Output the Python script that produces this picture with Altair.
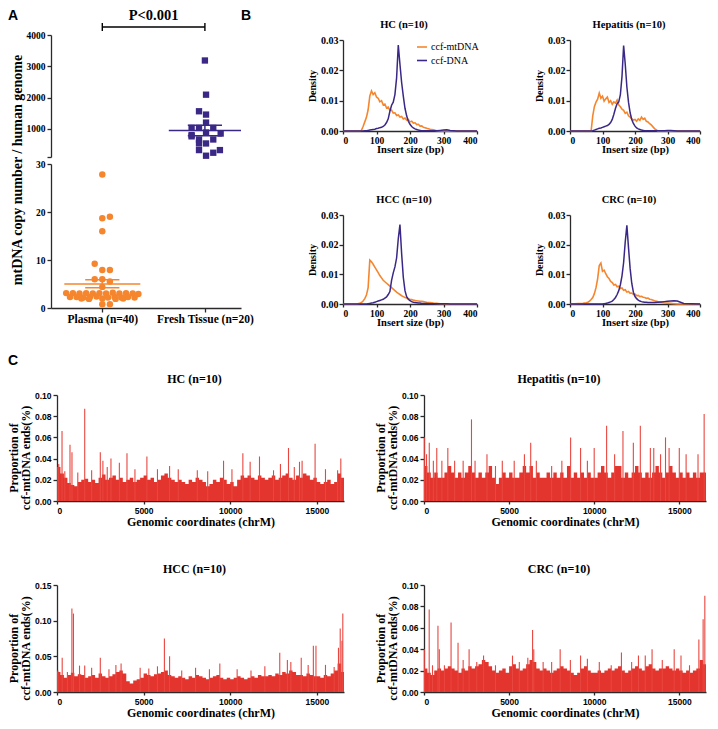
import altair as alt
import pandas as pd

W, H = 702, 713
SERIF = "Liberation Serif"
SANS = "Liberation Sans"
ORANGE = "#F5862E"
PURPLE = "#3B2886"
RED = "#E3342D"
SPIKE = "#E9463F"
INK = "#2a2a2a"

# ---------------- Panel A data ----------------
group_names = ["Plasma (n=40)", "Fresh Tissue (n=20)"]
plasma_vals = [27.8, 18.7, 19.0, 16.0, 9.2, 7.9, 7.9, 6.0, 6.0, 5.5, 4.4,
               3.1, 3.1, 3.0, 3.1, 3.0, 3.1, 3.0, 3.2, 3.0, 3.1, 3.0, 2.9,
               2.3, 2.3, 2.2, 2.3, 2.4, 2.2, 2.3, 2.2, 2.3, 2.2,
               2.0, 1.9, 2.0, 1.9, 2.0, 0.8, 0.8]
plasma_x = [27, 27, 31, 27, 23, 27, 31, 23, 27, 31, 27,
            8, 11.5, 15, 18.5, 22, 25.5, 29, 32.5, 36, 39.5, 43, 46,
            10, 13.5, 17, 20.5, 24, 30, 33.5, 37, 40.5, 44,
            16, 20, 27, 34, 38, 27, 31]
fresh_vals = [3185, 2092, 1562, 1456, 1200, 1030, 1030, 1030, 883, 850,
              800, 660, 660, 533, 533, 321, 321, 236, 141, 760]
fresh_x = [81, 81.6, 77.9, 81.6, 81.6, 74, 77.9, 85.4, 81.6, 89.3,
           74, 77.9, 85.4, 81.6, 77.9, 77.9, 88.9, 85.4, 81.6, 74]
group_mean = [5.0, 947]
group_sem_lo = [4.2, 777]
group_sem_hi = [5.9, 1117]
p_text = "P<0.001"

# ---------------- Panel B data (density x1e-3) ----------------
bx = [0, 40, 50, 55, 60, 65, 70, 75, 80, 85, 90, 95, 100, 105, 110, 115, 120, 125, 130, 135,
      140, 145, 150, 155, 160, 165, 170, 175, 180, 185, 190, 195, 200, 205, 210, 215, 220, 225,
      230, 235, 240, 245, 250, 260, 270, 280, 290, 300, 310, 320, 330, 340, 350, 400]
hc_o = [0, 0, 0, 0.2, 1.5, 3.0, 4.5, 7.0, 11.5, 13.2,
        12.0, 12.6, 11.2, 10.8, 9.6, 10.0, 8.6, 8.9, 7.6, 7.9,
        6.8, 6.9, 5.9, 6.0, 5.1, 5.3, 4.6, 4.8, 4.0, 4.3,
        3.6, 3.8, 3.0, 3.2, 2.6, 2.7, 2.1, 2.2, 1.6, 1.7,
        1.2, 1.1, 0.9, 0.6, 0.4, 0.1, 0, 0, 0, 0,
        0, 0, 0, 0]
hc_p = [0, 0, 0, 0, 0, 0.1, 0.1, 0.2, 0.3, 0.4,
        0.5, 0.6, 0.8, 0.9, 1.1, 1.2, 1.5, 2.0, 2.8, 4.0,
        6.5, 8.5, 9.5, 12.0, 17.5, 28.3, 22.0, 16.0, 11.5, 7.5,
        5.0, 3.2, 2.2, 1.5, 1.0, 0.7, 0.5, 0.3, 0.2, 0.1,
        0.1, 0.1, 0.1, 0.1, 0.1, 0.1, 0.2, 0.3, 0.4, 0.2,
        0.1, 0, 0, 0]
hep_o = [0, 0, 0, 0, 0, 0, 5.0, 8.0, 9.5, 10.5,
         12.5, 10.8, 11.5, 9.8, 10.6, 11.2, 9.4, 10.0, 8.8, 9.6,
         9.2, 10.2, 8.6, 8.0, 7.2, 6.8, 5.8, 6.2, 5.0, 4.6,
         4.0, 3.6, 3.8, 3.2, 4.0, 3.5, 4.6, 3.8, 4.2, 3.2,
         3.0, 2.4, 2.0, 0.8, 0, 0, 0, 0, 0, 0,
         0, 0, 0, 0]
hep_p = [0, 0, 0, 0, 0, 0, 0.1, 0.3, 0.5, 0.7,
         0.9, 1.0, 1.2, 1.4, 1.6, 1.8, 2.2, 2.8, 3.8, 5.5,
         7.5, 9.0, 9.6, 12.0, 18.0, 28.2, 22.0, 14.5, 9.5, 6.0,
         3.8, 2.5, 1.6, 1.0, 0.7, 0.5, 0.3, 0.2, 0.1, 0.1,
         0.1, 0.1, 0.1, 0.1, 0.1, 0.1, 0.1, 0.2, 0.2, 0.1,
         0, 0, 0, 0]
hcc_o = [0, 0, 0.2, 0.5, 1.0, 1.8, 3.0, 5.5, 14.8, 14.2,
         13.4, 12.4, 11.5, 10.6, 9.6, 8.8, 8.0, 7.5, 7.0, 6.5,
         6.0, 5.5, 5.0, 4.5, 4.0, 3.6, 3.2, 2.8, 2.5, 2.2,
         2.0, 1.8, 1.6, 1.5, 1.3, 1.2, 1.1, 1.0, 0.9, 0.9,
         0.8, 0.7, 0.6, 0.5, 0.3, 0.2, 0.1, 0.1, 0, 0,
         0, 0, 0, 0]
hcc_p = [0, 0, 0, 0, 0, 0, 0, 0.1, 0.2, 0.3,
         0.4, 0.6, 0.8, 1.0, 1.2, 1.4, 1.6, 2.0, 2.4, 3.2,
         4.2, 8.0, 10.5, 12.5, 15.5, 22.0, 26.8, 17.0, 9.0, 4.5,
         2.5, 1.6, 1.1, 0.8, 0.6, 0.5, 0.4, 0.3, 0.3, 0.2,
         0.2, 0.2, 0.2, 0.1, 0.1, 0.1, 0.1, 0.1, 0.1, 0,
         0, 0, 0, 0]
crc_o = [0, 0.2, 0.4, 0.6, 1.0, 1.5, 2.2, 3.5, 5.5, 8.5,
         13.0, 13.8, 11.0, 11.4, 10.2, 9.2, 8.6, 7.6, 7.2, 6.4,
         6.6, 5.8, 6.0, 5.2, 5.4, 4.6, 4.8, 4.0, 4.2, 3.6,
         3.7, 3.2, 3.3, 2.8, 2.9, 2.5, 2.6, 2.3, 2.2, 1.9,
         2.0, 1.6, 1.5, 1.1, 0.8, 0.6, 0.4, 0.3, 0.2, 0.1,
         0, 0, 0, 0]
crc_p = [0, 0, 0, 0, 0, 0, 0, 0, 0, 0,
         0, 0, 0, 0.1, 0.2, 0.3, 0.5, 0.7, 1.0, 1.5,
         2.2, 3.2, 4.5, 6.5, 9.5, 14.0, 21.0, 26.5, 19.0, 12.0,
         7.0, 4.0, 2.5, 1.8, 1.3, 1.0, 0.8, 0.7, 0.6, 0.6,
         0.5, 0.5, 0.5, 0.5, 0.6, 0.7, 0.8, 0.9, 1.0, 1.1,
         1.0, 0.6, 0.2, 0]
b_titles = ["HC (n=10)", "Hepatitis (n=10)", "HCC (n=10)", "CRC (n=10)"]
b_series = ["ccf-mtDNA", "ccf-DNA"]

# ---------------- Panel C data (proportion x1e-3, 200 bp bins) ----------------
chrM_len = 16569
c_bin_start = list(range(0, 16600, 200))
hc_base = [32, 26, 22, 17, 15, 14, 18, 20, 21, 18, 20, 17, 22, 25, 20, 22, 24, 20, 22, 18,
           20, 22, 18, 20, 22, 24, 20, 22, 18, 20, 24, 26, 22, 20, 18, 20, 18, 16, 20, 18,
           22, 20, 18, 14, 16, 20, 18, 22, 20, 16, 18, 14, 20, 24, 22, 24, 22, 20, 24, 22,
           20, 22, 24, 20, 22, 24, 26, 22, 20, 24, 22, 26, 24, 20, 22, 18, 16, 18, 20, 16,
           18, 26, 22]
hep_base = [33, 27, 22, 27, 22, 22, 27, 33, 27, 22, 27, 22, 27, 33, 27, 22, 27, 22, 27, 33,
            22, 16, 22, 27, 22, 27, 22, 22, 27, 33, 27, 33, 22, 27, 22, 22, 27, 22, 27, 22,
            27, 22, 33, 22, 27, 22, 27, 22, 27, 22, 22, 27, 33, 27, 22, 27, 33, 33, 22, 27,
            22, 27, 33, 27, 22, 27, 22, 27, 33, 27, 22, 27, 33, 27, 22, 27, 22, 27, 22, 27,
            22, 27, 27]
hcc_base = [28, 24, 20, 24, 27, 22, 25, 24, 20, 22, 24, 20, 26, 22, 20, 22, 25, 28, 30, 26,
            15, 12, 16, 18, 20, 26, 24, 22, 25, 26, 28, 30, 24, 22, 20, 22, 20, 18, 22, 20,
            24, 22, 20, 18, 20, 22, 24, 20, 18, 20, 18, 20, 22, 20, 18, 20, 22, 20, 24, 22,
            22, 24, 22, 26, 24, 28, 26, 30, 28, 24, 24, 22, 26, 24, 22, 22, 20, 24, 22, 26,
            30, 40, 28]
crc_base = [22, 18, 16, 20, 22, 20, 22, 24, 22, 20, 18, 22, 20, 24, 22, 24, 26, 30, 28, 24,
            20, 18, 20, 22, 18, 24, 26, 22, 20, 22, 26, 30, 28, 22, 20, 22, 20, 18, 20, 22,
            24, 22, 20, 18, 16, 18, 22, 24, 20, 18, 18, 20, 18, 20, 22, 20, 22, 24, 20, 18,
            20, 22, 24, 22, 20, 24, 26, 22, 20, 22, 22, 24, 22, 20, 22, 20, 18, 20, 18, 20,
            22, 30, 26]
hc_sp_pos = [100, 290, 450, 750, 865, 1200, 1600, 2000, 2500, 2650, 2900, 3115, 3600, 4040, 4500,
             5190, 5800, 6500, 7000, 8100, 8700, 9615, 10100, 10730, 11150, 11690, 12500, 12900,
             13365, 13700, 14000, 14150, 14900, 15500, 16200, 16385]
hc_sp_val = [35, 66, 28, 53, 46, 27, 87, 29, 46, 38, 32, 40, 36, 45, 30, 42, 30, 33, 30, 29,
             28, 38, 30, 45, 37, 42, 29, 35, 50, 32, 37, 38, 54, 30, 29, 40]
hep_sp_pos = [20, 150, 310, 550, 750, 1050, 1400, 1800, 2300, 2790, 3000, 3700, 4200, 4600, 5300,
              5900, 6270, 6600, 7500, 8100, 8615, 9200, 9600, 10000, 10730, 11200, 11690, 12300,
              12710, 13300, 13500, 13900, 14190, 14400, 15000, 15400, 16100, 16460]
hep_sp_val = [60, 44, 55, 38, 50, 38, 50, 38, 38, 77, 38, 44, 33, 38, 38, 44, 55, 38, 33, 38,
              60, 50, 38, 50, 71, 44, 66, 55, 71, 50, 50, 44, 60, 50, 50, 44, 44, 82]
hcc_sp_pos = [50, 300, 600, 860, 950, 1300, 1600, 2000, 2500, 3000, 3400, 3700, 4800, 5300, 5800,
              6200, 6500, 7200, 8000, 8800, 9400, 10400, 11200, 12000, 12860, 13300, 13500, 14100,
              14500, 14800, 14950, 15500, 16000, 16250, 16350, 16450, 16500]
hcc_sp_val = [30, 48, 28, 117, 110, 37, 37, 34, 48, 32, 38, 40, 34, 33, 36, 75, 50, 30, 34, 32,
              40, 32, 30, 36, 55, 45, 42, 48, 38, 65, 65, 38, 35, 62, 89, 72, 110]
crc_sp_pos = [20, 305, 500, 820, 900, 1200, 1590, 2000, 2300, 2650, 3100, 3500, 4200, 5200, 5600,
              6100, 6380, 6450, 7000, 7500, 8000, 8600, 9200, 9600, 10300, 11000, 11600, 12200,
              12600, 13000, 13400, 14000, 14700, 15100, 15600, 16150, 16400, 16500]
crc_sp_val = [40, 77, 25, 62, 40, 25, 65, 46, 30, 40, 28, 34, 25, 34, 28, 32, 58, 40, 28, 28,
              40, 30, 34, 31, 28, 25, 37, 28, 34, 34, 40, 30, 40, 34, 25, 49, 68, 90]
c_titles = ["HC (n=10)", "Hepatitis (n=10)", "HCC (n=10)", "CRC (n=10)"]
c_ytitle = ["Proportion of", "ccf-mtDNA ends(%)"]
c_xtitle = "Genomic coordinates (chrM)"

# ---------------- helpers ----------------
AXSTYLE = dict(domainColor=INK, tickColor=INK, domainWidth=1.3, tickWidth=1.3, tickSize=4,
               labelColor="black", titleColor="black", grid=False,
               labelFontWeight="bold", titleFontWeight="bold", titleFont=SERIF)


def xaxis(ybot, **kw):
    d = dict(AXSTYLE)
    d.update(kw)
    return alt.Axis(orient="bottom", offset=ybot - H, **d)


def yaxis(xleft, **kw):
    d = dict(AXSTYLE)
    d.update(kw)
    return alt.Axis(orient="left", offset=-xleft, **d)


def one():
    return pd.DataFrame({"k": [0]})


def label(s, x, y, size, font=SERIF, weight="bold", align="center", baseline="middle", angle=0):
    kw = dict(text=s, font=font, fontSize=size, fontWeight=weight, align=align,
              baseline=baseline, color="black")
    if angle:
        kw["angle"] = angle
    return alt.Chart(one()).mark_text(**kw).encode(x=alt.value(x), y=alt.value(y))


layers = []

# ---------------- Panel A ----------------
AX0, AX1 = 43, 233
PL_C, FR_C = 27, 81
xA = alt.Scale(domain=[0, 100], range=[AX0, AX1], nice=False, zero=False)
yUp = alt.Scale(domain=[100, 4000], range=[148, 26], nice=False, zero=False)
yLo = alt.Scale(domain=[0, 30], range=[299, 155], nice=False, zero=False)

up_axis = yaxis(AX0, values=[100, 1000, 2000, 3000, 4000], format="d",
                labelExpr="datum.value < 500 ? '' : datum.label", title=None,
                labelFont=SERIF, labelFontSize=9.5, labelPadding=2)
lo_axis = yaxis(AX0, values=[0, 10, 20, 30], format="d", title=None,
                labelFont=SERIF, labelFontSize=9.5, labelPadding=2)
xa_axis = xaxis(299, values=[PL_C, FR_C],
                labelExpr=f"datum.value < 50 ? '{group_names[0]}' : '{group_names[1]}'",
                title=None, labelFont=SERIF, labelFontSize=11.5, labelPadding=1)

fresh_df = pd.DataFrame({"x": fresh_x, "v": fresh_vals})
plasma_df = pd.DataFrame({"x": plasma_x, "v": plasma_vals})
layers.append(alt.Chart(fresh_df).mark_point(shape="square", filled=True, size=40, opacity=1,
                                             color=PURPLE).encode(
    x=alt.X("x:Q", scale=xA, axis=None), y=alt.Y("v:Q", scale=yUp, axis=up_axis)))
layers.append(alt.Chart(plasma_df).mark_circle(size=42, opacity=1, color=ORANGE).encode(
    x=alt.X("x:Q", scale=xA, axis=xa_axis), y=alt.Y("v:Q", scale=yLo, axis=lo_axis)))


def summary(i, c, yscale, color, hm, hs):
    df = pd.DataFrame({"m": [group_mean[i]], "lo": [group_sem_lo[i]], "hi": [group_sem_hi[i]]})
    b = alt.Chart(df).transform_calculate(a=f"{c - hm}", b=f"{c + hm}", sa=f"{c - hs}",
                                          sb=f"{c + hs}", c=f"{c}")
    return [
        b.mark_rule(color=color, strokeWidth=1.5).encode(
            x=alt.X("a:Q", scale=xA, axis=None), x2="b:Q", y=alt.Y("m:Q", scale=yscale, axis=None)),
        b.mark_rule(color=color, strokeWidth=1.5).encode(
            x=alt.X("sa:Q", scale=xA, axis=None), x2="sb:Q", y=alt.Y("lo:Q", scale=yscale, axis=None)),
        b.mark_rule(color=color, strokeWidth=1.5).encode(
            x=alt.X("sa:Q", scale=xA, axis=None), x2="sb:Q", y=alt.Y("hi:Q", scale=yscale, axis=None)),
        b.mark_rule(color=color, strokeWidth=1.5).encode(
            x=alt.X("c:Q", scale=xA, axis=None), y=alt.Y("lo:Q", scale=yscale, axis=None), y2="hi:Q"),
    ]


layers += summary(0, PL_C, yLo, ORANGE, 20, 9)
layers += summary(1, FR_C, yUp, PURPLE, 19, 9)

brk = alt.Chart(one()).transform_calculate(a=f"{PL_C}", b=f"{FR_C}", m=f"{(PL_C + FR_C) / 2}")
layers.append(brk.mark_rule(color="black", strokeWidth=1.4).encode(
    x=alt.X("a:Q", scale=xA, axis=None), x2="b:Q", y=alt.value(18)))
layers.append(brk.mark_rule(color="black", strokeWidth=1.4).encode(
    x=alt.X("a:Q", scale=xA, axis=None), y=alt.value(14), y2=alt.value(22)))
layers.append(brk.mark_rule(color="black", strokeWidth=1.4).encode(
    x=alt.X("b:Q", scale=xA, axis=None), y=alt.value(14), y2=alt.value(22)))
layers.append(brk.mark_text(text=p_text, font=SERIF, fontSize=14.5, fontWeight="bold",
                            baseline="top", color="black").encode(
    x=alt.X("m:Q", scale=xA, axis=None), y=alt.value(0)))
layers.append(label("mtDNA copy number / human genome", 9.5, 161, 14, angle=270))
layers.append(label("A", 0, 0, 14, font=SANS, align="left", baseline="top"))
layers.append(label("B", 233, 0, 14, font=SANS, align="left", baseline="top"))
layers.append(label("C", 0, 345, 14, font=SANS, align="left", baseline="top"))

# ---------------- Panel B ----------------
B_X = [(335, 469), (562, 692)]
B_Y = [(122, 31), (295, 206)]
b_data = [(hc_o, hc_p), (hep_o, hep_p), (hcc_o, hcc_p), (crc_o, crc_p)]
for k, (o, p) in enumerate(b_data):
    x0, x1 = B_X[k % 2]
    yb, yt = B_Y[k // 2]
    xs = alt.Scale(domain=[0, 400], range=[x0, x1], nice=False, zero=False)
    ys = alt.Scale(domain=[0, 0.03], range=[yb, yt], nice=False, zero=False)
    df = pd.DataFrame({"x": bx, "o": [v / 1000 for v in o], "p": [v / 1000 for v in p]})
    xa = xaxis(yb, values=[0, 100, 200, 300, 400], format="d", title="Insert size (bp)",
               labelFont=SERIF, labelFontSize=9.5, titleFontSize=10.5, titlePadding=0,
               labelPadding=1, tickSize=3)
    ya = yaxis(x0, values=[0, 0.01, 0.02, 0.03], format=".2f", title="Density",
               labelFont=SERIF, labelFontSize=10, titleFontSize=10, titlePadding=3,
               labelPadding=1, tickSize=4)
    layers.append(alt.Chart(df).mark_line(color=ORANGE, strokeWidth=1.6).encode(
        x=alt.X("x:Q", scale=xs, axis=xa), y=alt.Y("o:Q", scale=ys, axis=ya)))
    layers.append(alt.Chart(df).mark_line(color=PURPLE, strokeWidth=1.5).encode(
        x=alt.X("x:Q", scale=xs, axis=None), y=alt.Y("p:Q", scale=ys, axis=None)))
    layers.append(label(b_titles[k], (x0 + x1) / 2 - 6, yt - 15, 10.5))

# legend inside HC panel
lx, ly = B_X[0][0], B_Y[0][1]
for j, col in enumerate([ORANGE, PURPLE]):
    layers.append(alt.Chart(one()).mark_rule(color=col, strokeWidth=1.6).encode(
        x=alt.value(lx + 74), x2=alt.value(lx + 84), y=alt.value(ly + 7 + 13.5 * j)))
    layers.append(label(b_series[j], lx + 88, ly + 7 + 13.5 * j, 10, weight="normal", align="left"))

# ---------------- Panel C ----------------
C_X = [(49, 336), (416, 698)]
C_Y = [(492, 386), (683, 576)]
c_data = [(hc_base, hc_sp_pos, hc_sp_val), (hep_base, hep_sp_pos, hep_sp_val),
          (hcc_base, hcc_sp_pos, hcc_sp_val), (crc_base, crc_sp_pos, crc_sp_val)]
c_ymax = [0.10, 0.10, 0.15, 0.10]
c_ticks = [[0, 0.02, 0.04, 0.06, 0.08, 0.10], [0, 0.02, 0.04, 0.06, 0.08, 0.10],
           [0, 0.05, 0.10, 0.15], [0, 0.02, 0.04, 0.06, 0.08, 0.10]]
for k, (base, sp_pos, sp_val) in enumerate(c_data):
    x0, x1 = C_X[k % 2]
    yb, yt = C_Y[k // 2]
    xs = alt.Scale(domain=[0, chrM_len], range=[x0, x1], nice=False, zero=False)
    ys = alt.Scale(domain=[0, c_ymax[k]], range=[yb, yt], nice=False, zero=False)
    adf = pd.DataFrame({"s": c_bin_start + [chrM_len],
                        "v": [v / 1000 for v in base] + [base[-1] / 1000]})
    sdf = pd.DataFrame({"p": sp_pos, "v": [v / 1000 for v in sp_val]})
    xa = xaxis(yb, values=[0, 5000, 10000, 15000], format="d", title=c_xtitle,
               labelFont=SANS, labelFontSize=8.5, titleFontSize=12, titlePadding=2,
               labelPadding=2, tickSize=3)
    ya = yaxis(x0, values=c_ticks[k], format=".2f", title=None,
               labelFont=SANS, labelFontSize=8.5, labelPadding=2, tickSize=4)
    layers.append(alt.Chart(adf).mark_area(color=RED, interpolate="step-after", opacity=1).encode(
        x=alt.X("s:Q", scale=xs, axis=xa), y=alt.Y("v:Q", scale=ys, axis=ya), y2=alt.datum(0)))
    layers.append(alt.Chart(sdf).mark_rule(color=SPIKE, strokeWidth=1.1).encode(
        x=alt.X("p:Q", scale=xs, axis=None), y=alt.Y("v:Q", scale=ys, axis=None), y2=alt.datum(0)))
    layers.append(label(c_titles[k], (x0 + x1) / 2 - 6, yt - 16, 12))
    ymid = (yb + yt) / 2 + 10
    layers.append(label(c_ytitle[0], x0 - 43, ymid, 12, angle=270))
    layers.append(label(c_ytitle[1], x0 - 31, ymid, 12, angle=270))

chart = alt.layer(*layers).resolve_scale(x="independent", y="independent").properties(
    width=W, height=H, padding=0
).configure_view(stroke=None).configure_axis(grid=False)

chart.save("out.html", embed_options={"renderer": "svg", "actions": False})
